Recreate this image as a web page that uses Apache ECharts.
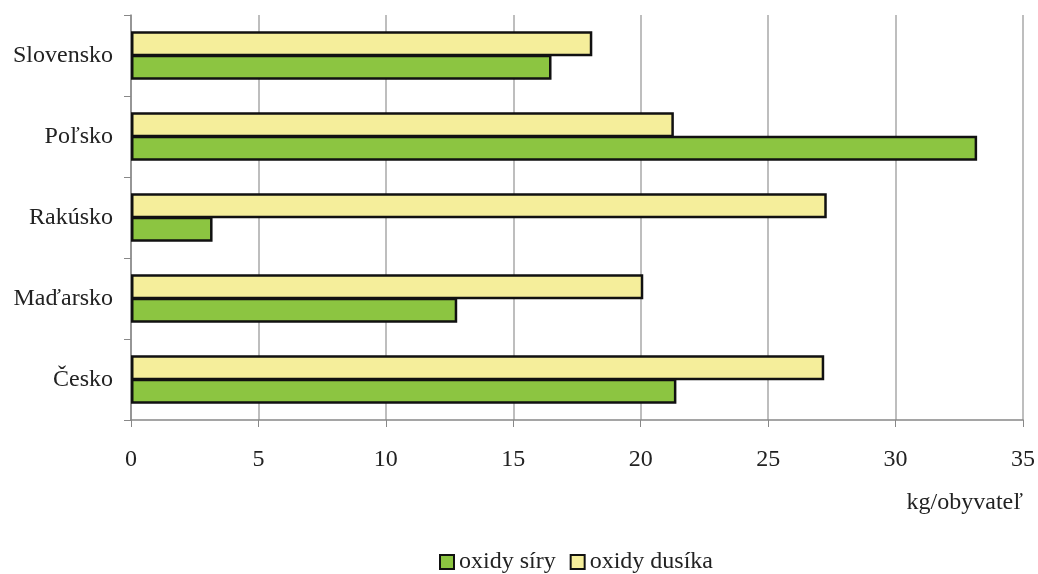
<!DOCTYPE html>
<html>
<head>
<meta charset="utf-8">
<script src="https://cdn.jsdelivr.net/npm/echarts@6/dist/echarts.min.js"></script>
<style>
  html, body { margin: 0; padding: 0; background: #fff; }
  #chart { width: 1038px; height: 574px; }
</style>
</head>
<body>
<div id="chart"></div>
<script>
// Emissions per inhabitant (kg/obyvateľ), bottom-to-top category order
const countries = ['Česko', 'Maďarsko', 'Rakúsko', 'Poľsko', 'Slovensko'];
const sulfurOxides = [21.4, 12.8, 3.2, 33.2, 16.5];
const nitrogenOxides = [27.2, 20.1, 27.3, 21.3, 18.1];
const seriesNames = ['oxidy síry', 'oxidy dusíka'];
const unitLabel = 'kg/obyvateľ';

const font = 'Liberation Serif, Times New Roman, serif';
const chart = echarts.init(document.getElementById('chart'), null, { renderer: 'canvas' });

const green = '#8cc541';
const yellow = '#f5ee9b';

chart.setOption({
  animation: false,
  backgroundColor: '#ffffff',
  textStyle: { fontFamily: font, color: '#222' },
  grid: { left: 131, right: 15, top: 15, bottom: 154, containLabel: false },
  title: {
    text: unitLabel,
    right: 10,
    top: 486,
    textStyle: { fontFamily: font, fontSize: 24, fontWeight: 'normal', color: '#222' }
  },
  legend: {
    data: seriesNames,
    left: 439,
    top: 550,
    padding: 0,
    icon: 'rect',
    itemWidth: 14,
    itemHeight: 14,
    itemGap: 14,
    textStyle: { fontFamily: font, fontSize: 24, color: '#222', lineHeight: 24 },
    itemStyle: { borderColor: '#111', borderWidth: 2 }
  },
  xAxis: {
    type: 'value',
    min: 0,
    max: 35,
    interval: 5,
    axisLine: { show: true, lineStyle: { color: '#888', width: 1.5 } },
    axisTick: { show: true, inside: false, length: 7, lineStyle: { color: '#888' } },
    axisLabel: { fontFamily: font, fontSize: 24, color: '#222', margin: 28 },
    splitLine: { show: true, lineStyle: { color: '#a8a8a8', width: 1.5 } }
  },
  yAxis: {
    type: 'category',
    data: countries,
    axisLine: { show: true, lineStyle: { color: '#888', width: 1.5 } },
    axisTick: { show: true, inside: false, length: 7, lineStyle: { color: '#888' } },
    axisLabel: { fontFamily: font, fontSize: 24, color: '#222', margin: 18 }
  },
  // The first series sits on top within each band, so nitrogen oxides come first
  series: [
    {
      name: seriesNames[1],
      type: 'bar',
      data: nitrogenOxides,
      barGap: '-6%',
      barCategoryGap: '40%',
      itemStyle: { color: yellow, borderColor: '#111', borderWidth: 2.5 }
    },
    {
      name: seriesNames[0],
      type: 'bar',
      data: sulfurOxides,
      barGap: '-6%',
      barCategoryGap: '40%',
      itemStyle: { color: green, borderColor: '#111', borderWidth: 2.5 }
    }
  ]
});
</script>
</body>
</html>
